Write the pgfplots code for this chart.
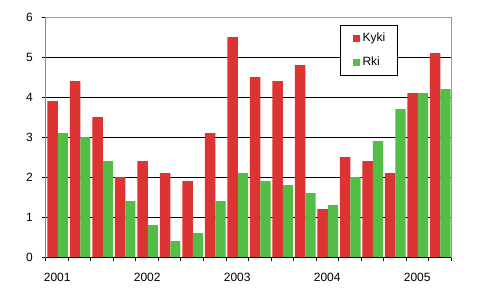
\documentclass[border=0pt]{standalone}
\usepackage{fontspec}
\setmainfont{Liberation Sans}
\usepackage{pgfplots}
\pgfplotsset{compat=1.18}
\definecolor{kred}{RGB}{221,51,51}
\definecolor{rgreen}{RGB}{83,190,69}
\begin{document}
\fontsize{12bp}{14bp}\selectfont
\begin{tikzpicture}
\useasboundingbox (-46bp,-37bp) rectangle (446bp,257bp);
\begin{axis}[
  at={(0,0)}, anchor=south west,
  scale only axis, width=405bp, height=240bp,
  xmin=-0.5, xmax=17.5, ymin=0, ymax=6,
  bar width=10.5bp,
  axis line style={draw=gray!80, line width=1bp},
  tick align=outside, major tick length=4bp,
  tick style={black, line width=1bp},
  xtick pos=bottom, ytick pos=left,
  xtick={-0.5,0.5,...,17.5}, xticklabels={},
  extra x ticks={0,4,8,12,16},
  extra x tick labels={2001,2002,2003,2004,2005},
  extra x tick style={major tick length=0pt, xticklabel style={yshift=-12bp}},
  ytick={0,1,...,6},
  yticklabel style={xshift=-5bp},
  ymajorgrids, grid style={black, line width=1bp},
  /pgf/number format/assume math mode=true,
  ticklabel style={font=\fontsize{12bp}{14bp}\selectfont},
  legend style={at={(rel axis cs:0.726,0.967)}, anchor=north west,
    draw=black, line width=1bp, fill=white,
    inner xsep=12bp, inner ysep=7bp, row sep=13bp,
    font=\fontsize{12bp}{14bp}\selectfont,
    nodes={inner sep=0pt, text height=9bp, text depth=2.5bp},
    /tikz/every odd column/.append style={column sep=3bp},
    cells={anchor=west}},
  legend image code/.code={\path[#1, draw=none] (0bp,-3.5bp) rectangle (7bp,3.5bp);},
]
\addplot[ybar, bar shift=-4.6bp, fill=kred, draw=none] coordinates {
(0,3.9) (1,4.4) (2,3.5) (3,2.0) (4,2.4) (5,2.1) (6,1.9) (7,3.1) (8,5.5)
(9,4.5) (10,4.4) (11,4.8) (12,1.2) (13,2.5) (14,2.4) (15,2.1) (16,4.1) (17,5.1)};
\addplot[ybar, bar shift=5.7bp, bar width=10.1bp, fill=rgreen, draw=none] coordinates {
(0,3.1) (1,3.0) (2,2.4) (3,1.4) (4,0.8) (5,0.4) (6,0.6) (7,1.4) (8,2.1)
(9,1.9) (10,1.8) (11,1.6) (12,1.3) (13,2.0) (14,2.9) (15,3.7) (16,4.1) (17,4.2)};
\legend{Kyki,Rki}
\draw[gray!80, line width=1bp] (rel axis cs:0,1) -- (rel axis cs:1,1) -- (rel axis cs:1,0);
\draw[black, line width=1bp] (rel axis cs:0,1) -- (rel axis cs:0,0) -- (rel axis cs:1,0);
\end{axis}
\end{tikzpicture}
\end{document}
